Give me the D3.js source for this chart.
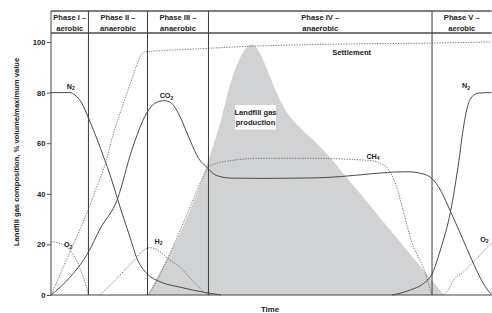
<!DOCTYPE html>
<html><head><meta charset="utf-8">
<script src="https://cdn.jsdelivr.net/npm/d3@7"></script>
<style>
body{margin:0;background:#fff}
svg{display:block}
text{font-family:"Liberation Sans Narrow","Arial Narrow","Liberation Sans",sans-serif;font-weight:bold;fill:#222}
</style>
</head><body><svg id="c" width="492" height="313"></svg>
<script>
// ---- data (time 0..100, value % volume / max value) ----
const phaseBounds = [8.5, 21.9, 35.75, 86.5];
const phaseTitles = [["Phase I –","aerobic"],["Phase II –","anaerobic"],["Phase III –","anaerobic"],["Phase IV –","anaerobic"],["Phase V –","aerobic"]];
const yTicks = [0, 20, 40, 60, 80, 100];

const gasProduction = [[21.9,0],[25,10],[29.3,24.5],[34.2,45.5],[35.75,53.5],[38.4,68],[40.8,84],[43.3,95],[44.5,98],[45.4,99],[46.3,98.4],[47.1,96.5],[48.5,91.5],[49.8,86],[52,77],[54,71],[56.6,66],[60,60.5],[63,55],[65.7,49.4],[70,40.5],[75,29.8],[80,19.4],[85,8.9],[89.2,0]];
const n2Early = [[0,80],[4.3,80],[5.45,79],[7.0,75.8],[8.5,70],[11.1,58.6],[14.5,41.5],[15.1,38],[18,22.5],[19.5,14.5],[21.9,8.3],[24.8,5.2],[29.3,3.1],[35,1],[38.6,0]];
const co2 = [[0,0],[4.3,7],[8.5,17],[11.1,26],[15.1,38],[18.3,57],[21.75,72],[23.5,75.7],[25.6,76.8],[27.2,76],[29,71.5],[31.6,61],[33.5,54],[35.4,50.5],[36.8,48],[38.4,46.8],[41,46.2],[47.5,46.1],[60,46.3],[65.7,46.8],[72,47.8],[78,48.6],[81,48.7],[83.9,48.1],[86.5,46],[88.4,41.5],[90.7,33],[93,24],[95.5,14],[98,5],[100,0]];
const n2Late = [[77.4,0],[81.6,2],[84.6,4.6],[86.5,8.3],[88.4,17.8],[90.7,33],[92.6,53],[93.7,67],[95.2,77.5],[97,79.8],[100,80]];
const o2Early = [[0,21],[2,20.4],[3.6,19],[5.1,15.8],[6.5,11],[7.3,7.2],[8,3.5],[8.5,0]];
const o2Late = [[89,0],[90,1.5],[91.4,5.9],[93.7,9.2],[95.2,11.9],[97,15],[99.1,19],[100,20.4]];
const h2 = [[11.1,0],[13.8,4.5],[16.4,9.2],[19,14],[21,17.6],[22.3,18.7],[23.5,18.4],[25.2,16.5],[27,13.8],[29.3,11],[31.6,6.6],[33.5,3.2],[35,0.8],[36,0]];
const ch4 = [[22.1,0],[24,5.5],[26.3,13.8],[29.3,25.5],[32,36.5],[34.2,45.5],[35.75,50.5],[37.5,52],[39.9,52.9],[47.5,54],[60,54],[68,53.6],[73.25,53],[74.8,52],[76.7,49.4],[78.95,40],[79.7,35],[82.3,19],[83.1,16],[85,8.6],[86.1,2],[86.5,0]];
const settlement = [[0,0],[4.3,17],[8.5,34],[10,41],[12,50],[14.2,64],[16.3,75],[18.3,85],[19.6,91.5],[20.6,95.3],[22,96.2],[30,97],[35.75,97.5],[45,98.3],[60,99],[86.5,99.6],[100,100]];

const curveLabels = [
  {t:4.5, v:81.5, base:"N", sub:"2"},
  {t:26.2, v:77.8, base:"CO", sub:"2"},
  {t:3.9, v:18.9, base:"O", sub:"2"},
  {t:24.4, v:20.3, base:"H", sub:"2"},
  {t:73.1, v:53.8, base:"CH", sub:"4"},
  {t:94.2, v:81.7, base:"N", sub:"2"},
  {t:98.4, v:21.1, base:"O", sub:"2"}
];

// ---- drawing ----
const svg = d3.select("#c");
const x = d3.scaleLinear().domain([0,100]).range([51,491.5]);
const y = d3.scaleLinear().domain([0,100]).range([295,42]);
const frameTop = 11, headerBottom = 33;

const line = d3.line().x(d=>x(d[0])).y(d=>y(d[1])).curve(d3.curveMonotoneX);
const area = d3.area().x(d=>x(d[0])).y0(y(0)).y1(d=>y(d[1])).curve(d3.curveMonotoneX);

svg.append("path").attr("d", area(gasProduction)).attr("fill","#d1d2d4");

// dotted curves
[settlement, o2Early, o2Late, h2, ch4].forEach(s=>{
  svg.append("path").attr("d", line(s)).attr("fill","none")
    .attr("stroke","#6a6a6a").attr("stroke-width",0.9).attr("stroke-dasharray","1.3,1.3");
});
// solid curves
[n2Early, co2, n2Late].forEach(s=>{
  svg.append("path").attr("d", line(s)).attr("fill","none")
    .attr("stroke","#4a4a4a").attr("stroke-width",1);
});

// frame & phase lines
svg.append("line").attr("x1",x(0)).attr("x2",x(100)).attr("y1",frameTop).attr("y2",frameTop).attr("stroke","#555").attr("stroke-width",1.4);
svg.append("line").attr("x1",x(0)).attr("x2",x(100)).attr("y1",headerBottom).attr("y2",headerBottom).attr("stroke","#777").attr("stroke-width",1.8);
svg.append("line").attr("x1",x(0)).attr("x2",x(0)).attr("y1",frameTop).attr("y2",y(0)).attr("stroke","#444").attr("stroke-width",1);
svg.append("line").attr("x1",x(0)).attr("x2",x(100)).attr("y1",y(0)).attr("y2",y(0)).attr("stroke","#444").attr("stroke-width",1.2);
phaseBounds.forEach(b=>{
  svg.append("line").attr("x1",x(b)).attr("x2",x(b)).attr("y1",frameTop).attr("y2",y(0)).attr("stroke","#3c3c3c").attr("stroke-width",1);
});

// phase titles
const edges = [0, ...phaseBounds, 100];
phaseTitles.forEach((pt,i)=>{
  const cx = (x(edges[i]) + x(edges[i+1]))/2;
  const t = svg.append("text").attr("text-anchor","middle").attr("font-size",7.6);
  t.append("tspan").attr("x",cx).attr("y",19.5).text(pt[0]);
  t.append("tspan").attr("x",cx).attr("y",30.5).text(pt[1]);
});

// y axis
const ax = svg.append("g").attr("transform",`translate(${x(0)},0)`)
  .call(d3.axisLeft(y).tickValues(yTicks).tickSize(4).tickPadding(1.5));
ax.select(".domain").remove();
ax.selectAll(".tick line").attr("stroke","#555");
ax.selectAll(".tick text").attr("font-size",7.6).attr("font-family",null).attr("fill","#222");

svg.append("text").attr("transform","translate(19,152) rotate(-90)").attr("text-anchor","middle")
  .attr("font-size",7.6).text("Landfill gas composition, % volume/maximum value");
svg.append("text").attr("x",270).attr("y",312).attr("text-anchor","middle").attr("font-size",7.8).text("Time");

// gas production label
svg.append("rect").attr("x",235).attr("y",105).attr("width",41).attr("height",24.5).attr("fill","#fff");
const gl = svg.append("text").attr("text-anchor","middle").attr("font-size",7.6);
gl.append("tspan").attr("x",255.5).attr("y",114.5).text("Landfill gas");
gl.append("tspan").attr("x",255.5).attr("y",124.7).text("production");

svg.append("text").attr("x",351.7).attr("y",54.5).attr("text-anchor","middle").attr("font-size",7.6).text("Settlement");

curveLabels.forEach(l=>{
  const t = svg.append("text").attr("x",x(l.t)).attr("y",y(l.v)).attr("text-anchor","middle").attr("font-size",7.2);
  t.append("tspan").text(l.base);
  t.append("tspan").attr("font-size",5).attr("dy",1.6).text(l.sub);
});
</script>
</body></html>
